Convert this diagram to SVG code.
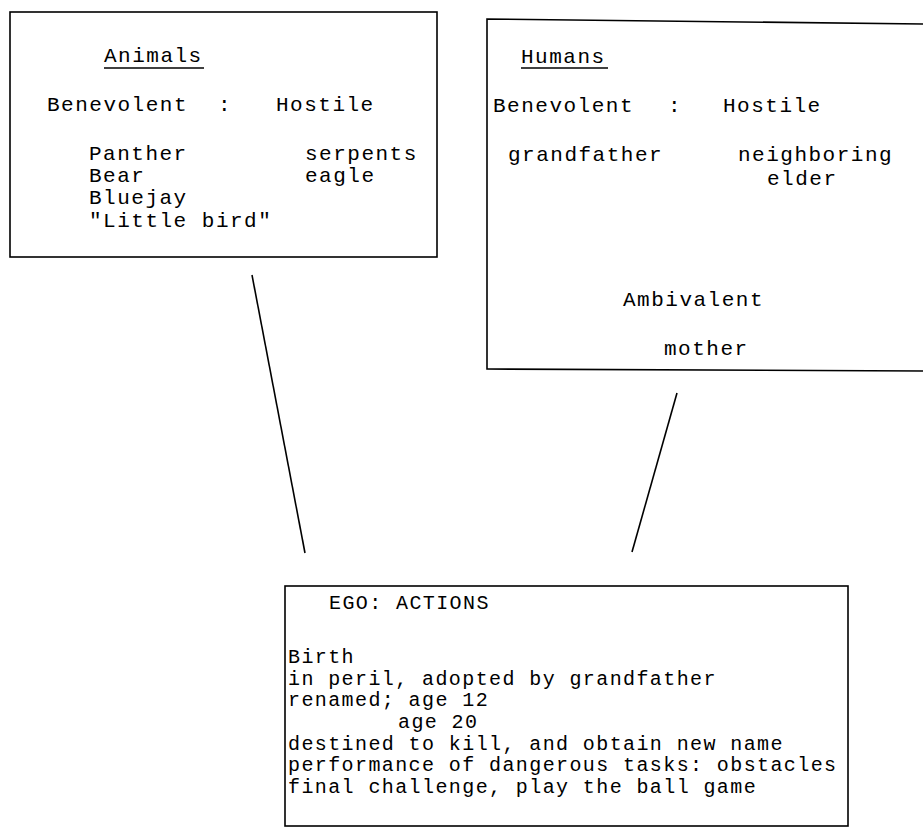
<svg xmlns="http://www.w3.org/2000/svg" width="923" height="828" viewBox="0 0 923 828">
<style>
.box{fill:none;stroke:#000;stroke-width:1.6}
.t{font-family:"Liberation Mono","Courier New",monospace;font-size:21px;letter-spacing:1.5px;fill:#000}
.s{font-family:"Liberation Mono","Courier New",monospace;font-size:20px;letter-spacing:1.4px;fill:#000}
.u{stroke:#000;stroke-width:1.6}
.c{stroke:#000;stroke-width:1.6;fill:none}
</style>
<rect width="923" height="828" fill="#fff"/>
<g id="animals">
<rect class="box" x="10" y="12" width="427" height="245"/>
<text class="t" x="104" y="62">Animals</text>
<line class="u" x1="104" y1="68" x2="204" y2="68"/>
<text class="t" x="47" y="111">Benevolent</text>
<text class="t" x="218" y="111">:</text>
<text class="t" x="276" y="111">Hostile</text>
<text class="t" x="89" y="160">Panther</text>
<text class="t" x="305" y="160">serpents</text>
<text class="t" x="89" y="182">Bear</text>
<text class="t" x="305" y="182">eagle</text>
<text class="t" x="89" y="204">Bluejay</text>
<text class="t" x="89" y="227">"Little bird"</text>
</g>
<g id="humans">
<path class="box" d="M923,24 L487,19 L487,369 L923,371"/>
<text class="t" x="521" y="63">Humans</text>
<line class="u" x1="521" y1="68" x2="608" y2="68"/>
<text class="t" x="493" y="112">Benevolent</text>
<text class="t" x="668" y="112">:</text>
<text class="t" x="723" y="112">Hostile</text>
<text class="t" x="508" y="161">grandfather</text>
<text class="t" x="738" y="161">neighboring</text>
<text class="t" x="767" y="185">elder</text>
<text class="t" x="623" y="306">Ambivalent</text>
<text class="t" x="664" y="355">mother</text>
</g>
<g id="ego">
<rect class="box" x="285" y="586" width="563" height="240"/>
<text class="s" x="329" y="609">EGO: ACTIONS</text>
<text class="s" x="288" y="663">Birth</text>
<text class="s" x="288" y="685">in peril, adopted by grandfather</text>
<text class="s" x="288" y="706">renamed; age 12</text>
<text class="s" x="398" y="728">age 20</text>
<text class="s" x="288" y="750">destined to kill, and obtain new name</text>
<text class="s" x="288" y="771">performance of dangerous tasks: obstacles</text>
<text class="s" x="288" y="793">final challenge, play the ball game</text>
</g>
<g id="connectors">
<line class="c" x1="252" y1="275" x2="305" y2="553"/>
<line class="c" x1="677" y1="393" x2="632" y2="552"/>
</g>
</svg>
